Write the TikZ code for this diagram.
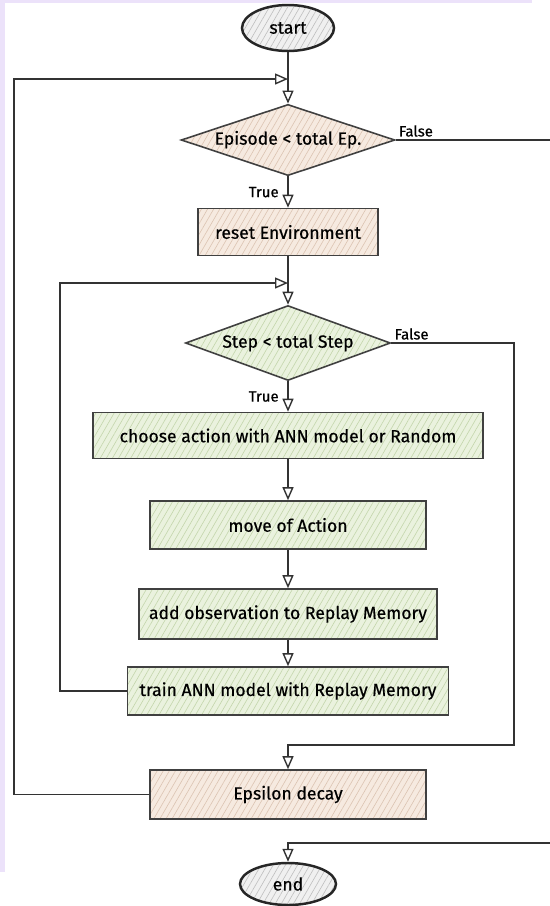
\documentclass[tikz,border=0pt]{standalone}
\usepackage{fontspec}
\setmainfont{Fira Sans}
\newfontfamily\sketchfont{Fira Sans}[FakeBold=0.5]
\usetikzlibrary{arrows.meta,positioning,shapes.geometric,patterns.meta}
\definecolor{sketchPeach}{RGB}{246,234,224}
\definecolor{sketchPeachLine}{RGB}{220,196,178}
\definecolor{sketchGreen}{RGB}{234,242,222}
\definecolor{sketchGreenLine}{RGB}{196,214,172}
\definecolor{sketchGrey}{RGB}{240,240,240}
\definecolor{sketchLilac}{RGB}{236,226,250}

\begin{document}
\begin{tikzpicture}[>={Triangle[open,length=2.6mm,width=2.2mm]},
  hatch/.style 2 args={preaction={fill=#1},
                       preaction={pattern={Lines[angle=60,distance=3pt,line width=0.35pt]}, pattern color=#2}},
  peachbox/.style={draw=black!75, line width=0.9pt, hatch={sketchPeach}{sketchPeachLine},
                   font=\sketchfont\fontsize{10}{12}\selectfont, inner sep=2pt},
  greenbox/.style={draw=black!75, line width=0.9pt, hatch={sketchGreen}{sketchGreenLine},
                   font=\sketchfont\fontsize{10}{12}\selectfont, inner sep=2pt},
  decision/.style={diamond, aspect=3, inner sep=0pt, text height=1.2ex, text depth=0.2ex},
  terminal/.style={ellipse, draw=black!85, line width=1.4pt, hatch={sketchGrey}{black!25},
                   font=\sketchfont\fontsize{10}{12}\selectfont, inner sep=0pt},
  flow/.style={->, draw=black!80, line width=0.8pt},
  cond/.style={font=\sketchfont\fontsize{8.5}{10}\selectfont, inner sep=1.5pt}]
  \useasboundingbox (0,0) rectangle (11,-18.12);
  % lilac strips of the original screenshot
  \fill[sketchLilac] (0,0) rectangle (10.64,-0.06);
  \fill[sketchLilac] (0,0) rectangle (0.1,-17.44);

  \node[terminal, minimum width=18.4mm, minimum height=9.2mm] (start) at (5.76,-0.56) {start};
  \node[decision, peachbox, minimum width=41mm, minimum height=14mm] (ep) at (5.76,-2.8) {Episode < total Ep.};
  \node[peachbox, minimum width=36mm, minimum height=9.4mm] (reset) at (5.76,-4.64) {reset Environment};
  \node[decision, greenbox, minimum width=41mm, minimum height=15mm] (step) at (5.76,-6.86) {Step < total Step};
  \node[greenbox, minimum width=78mm, minimum height=9.2mm] (choose) at (5.76,-8.71) {choose action with ANN model or Random};
  \node[greenbox, minimum width=55.2mm, minimum height=9.6mm] (move) at (5.76,-10.5) {move of Action};
  \node[greenbox, minimum width=59.6mm, minimum height=10mm] (add) at (5.76,-12.28) {add observation to Replay Memory};
  \node[greenbox, minimum width=64.2mm, minimum height=9.6mm] (train) at (5.76,-13.82) {train ANN model with Replay Memory};
  \node[peachbox, minimum width=55.2mm, minimum height=9.8mm] (eps) at (5.76,-15.89) {Epsilon decay};
  \node[terminal, minimum width=19.2mm, minimum height=8.4mm] (end) at (5.76,-17.68) {end};

  % bends of the loops
  \coordinate (epjoin) at (5.76,-1.58);
  \coordinate (outerL) at (0.28,-1.58);
  \coordinate (stepjoin) at (5.76,-5.66);
  \coordinate (innerL) at (1.2,-5.66);
  \coordinate (stepR) at (10.28,-14.9);
  \coordinate (epR) at (11.6,-16.86);

  \draw[flow] (start) -- (ep);
  \draw[flow] (ep) -- node[cond, left=1.2mm]{True} (reset);
  \draw[flow] (reset) -- (step);
  \draw[flow] (step) -- node[cond, left=1.2mm]{True} (choose);
  \draw[flow] (choose) -- (move);
  \draw[flow] (move) -- (add);
  \draw[flow] (add) -- (train);
  \draw[flow] (train.west) -| (innerL) -- (stepjoin);
  \draw[flow] (eps.west) -| (outerL) -- (epjoin);
  \draw[flow] (step.east) -| node[pos=0, cond, anchor=south west]{False} (stepR) -| (eps.north);
  \draw[flow] (ep.east) -| node[pos=0, cond, anchor=south west]{False} (epR) -| (end.north);
\end{tikzpicture}
\end{document}
